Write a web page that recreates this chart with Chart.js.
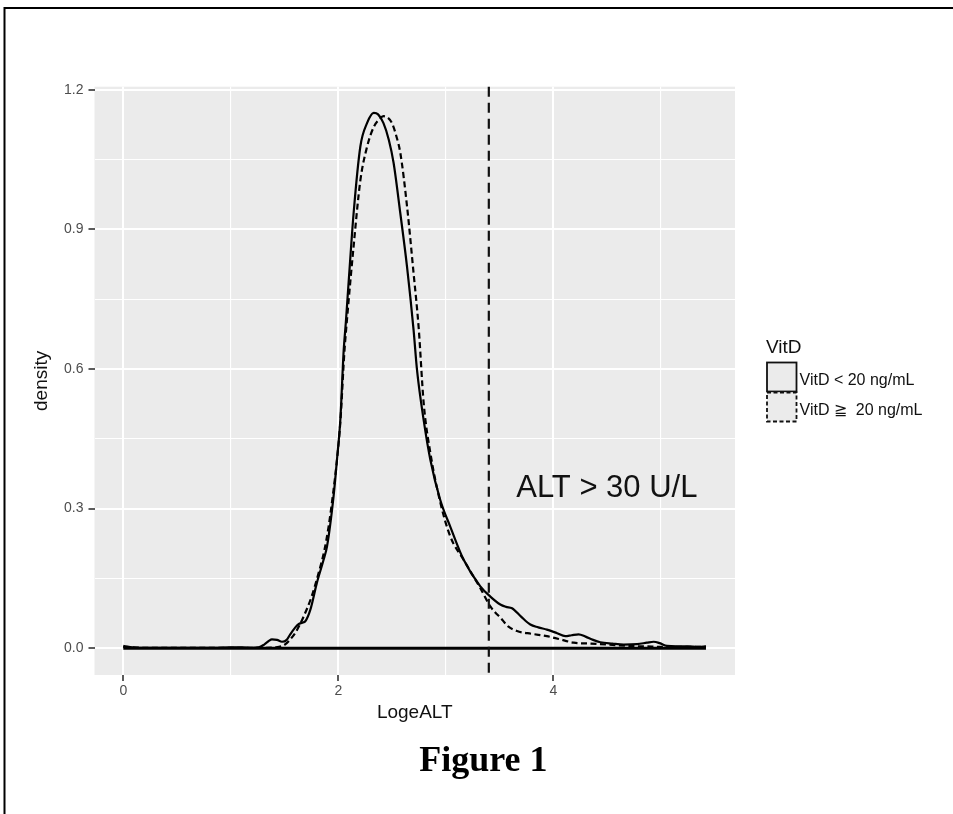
<!DOCTYPE html>
<html><head><meta charset="utf-8">
<script src="https://cdn.jsdelivr.net/npm/chart.js@4.4.1/dist/chart.umd.min.js"></script>
<style>html,body{margin:0;padding:0;background:#fff;}canvas{display:block;}</style>
</head><body>
<canvas id="c" width="953" height="814"></canvas>
<script>
// ---- data ----
const seriesNames = ['VitD < 20 ng/mL', 'VitD \u2267  20 ng/mL'];
const lowX = [0, 0.05, 0.15, 0.35, 0.6, 0.85, 1.0, 1.1, 1.2, 1.26, 1.31, 1.35, 1.383, 1.43, 1.476, 1.52, 1.553, 1.6, 1.63, 1.665, 1.693, 1.74, 1.80, 1.863, 1.895, 1.956, 1.988, 2.019, 2.05, 2.07, 2.10, 2.142, 2.205, 2.267, 2.33, 2.37, 2.42, 2.47, 2.514, 2.577, 2.639, 2.70, 2.732, 2.794, 2.856, 2.949, 3.042, 3.166, 3.321, 3.414, 3.507, 3.56, 3.616, 3.70, 3.786, 3.86, 3.94, 4.03, 4.112, 4.17, 4.235, 4.30, 4.37, 4.437, 4.55, 4.654, 4.78, 4.87, 4.933, 4.99, 5.057, 5.15, 5.25, 5.35, 5.42];
const lowY = [0.005, 0.003, 0.001, 0.001, 0.001, 0.001, 0.002, 0.002, 0.001, 0.002, 0.008, 0.015, 0.019, 0.018, 0.014, 0.018, 0.030, 0.045, 0.052, 0.055, 0.058, 0.083, 0.140, 0.190, 0.219, 0.327, 0.406, 0.492, 0.640, 0.700, 0.800, 0.934, 1.078, 1.128, 1.150, 1.147, 1.128, 1.092, 1.043, 0.934, 0.820, 0.684, 0.598, 0.490, 0.405, 0.318, 0.261, 0.190, 0.133, 0.111, 0.094, 0.089, 0.086, 0.068, 0.051, 0.045, 0.040, 0.033, 0.026, 0.028, 0.030, 0.025, 0.018, 0.013, 0.010, 0.008, 0.009, 0.012, 0.014, 0.011, 0.005, 0.004, 0.004, 0.003, 0.004];
const highX = [0, 0.2, 0.6, 1.0, 1.3, 1.42, 1.48, 1.52, 1.553, 1.60, 1.64, 1.677, 1.75, 1.817, 1.87, 1.91, 1.95, 1.99, 2.02, 2.056, 2.081, 2.142, 2.205, 2.267, 2.33, 2.38, 2.42, 2.46, 2.50, 2.54, 2.577, 2.639, 2.70, 2.747, 2.794, 2.856, 2.949, 3.042, 3.166, 3.321, 3.414, 3.46, 3.507, 3.58, 3.662, 3.80, 3.94, 4.05, 4.19, 4.35, 4.5, 4.7, 4.87, 5.0, 5.2, 5.42];
const highY = [0.003, 0.001, 0.001, 0.001, 0.001, 0.002, 0.005, 0.011, 0.019, 0.033, 0.050, 0.068, 0.110, 0.162, 0.210, 0.262, 0.330, 0.410, 0.490, 0.635, 0.707, 0.863, 1.005, 1.077, 1.120, 1.136, 1.143, 1.140, 1.128, 1.100, 1.064, 0.950, 0.806, 0.690, 0.527, 0.420, 0.313, 0.240, 0.190, 0.129, 0.090, 0.077, 0.066, 0.047, 0.037, 0.031, 0.026, 0.020, 0.012, 0.010, 0.008, 0.005, 0.004, 0.003, 0.003, 0.003];
const xMajorTicks = [0, 2, 4];
const xTickLabels = ['0', '2', '4'];
const xMinorTicks = [1, 3, 5];
const yMajorTicks = [0, 0.3, 0.6, 0.9, 1.2];
const yTickLabels = ['0.0', '0.3', '0.6', '0.9', '1.2'];
const yMinorTicks = [0.15, 0.45, 0.75, 1.05];
const cutoffX = 3.40;
const cutoffLabel = 'ALT > 30 U/L';
const xTitle = 'LogeALT';
const yTitle = 'density';
const legendTitle = 'VitD';
const caption = 'Figure 1';

// ---- styling ----
const SANS = '"Liberation Sans", Arial, Helvetica, sans-serif';
const SERIF = '"Liberation Serif", "Times New Roman", serif';
const X_MIN = -0.268, X_MAX = 5.690, Y_MIN = -0.0574, Y_MAX = 1.2064;
const ANN_X = 3.655, ANN_Y = 0.325;
const seriesDash = [[], [6, 3.5]];
const legendDash = [[], [4, 2.5]];

const toPts = (xs, ys) => xs.map((x, i) => ({x: x, y: ys[i]}));

const bgPlugin = {
  id: 'bg',
  beforeDraw(chart) {
    const {ctx, chartArea: a} = chart;
    ctx.save();
    ctx.fillStyle = '#EBEBEB';
    ctx.fillRect(a.left, a.top, a.right - a.left, a.bottom - a.top);
    ctx.restore();
  }
};

const overlayPlugin = {
  id: 'overlay',
  afterDatasetsDraw(chart) {
    const {ctx, chartArea: a, scales} = chart;
    const xs = scales.x, ys = scales.y;
    ctx.save();
    // cutoff line
    const px = xs.getPixelForValue(cutoffX);
    ctx.strokeStyle = '#111';
    ctx.lineWidth = 2.2;
    ctx.setLineDash([10, 6]);
    ctx.beginPath();
    ctx.moveTo(px, a.top);
    ctx.lineTo(px, a.bottom);
    ctx.stroke();
    ctx.setLineDash([]);
    // annotation
    ctx.fillStyle = '#111';
    ctx.font = '31px ' + SANS;
    ctx.textBaseline = 'alphabetic';
    ctx.textAlign = 'left';
    ctx.fillText(cutoffLabel, xs.getPixelForValue(ANN_X), ys.getPixelForValue(ANN_Y));
    ctx.restore();
  },
  afterDraw(chart) {
    const ctx = chart.ctx;
    ctx.save();
    // legend
    ctx.fillStyle = '#111';
    ctx.font = '19px ' + SANS;
    ctx.textAlign = 'left';
    ctx.textBaseline = 'alphabetic';
    ctx.fillText(legendTitle, 766, 352.5);
    const lx = 767, ly = 362.5, bw = 29.5, bh = 30;
    seriesNames.forEach((name, i) => {
      const y = ly + i * bh;
      ctx.fillStyle = '#EBEBEB';
      ctx.fillRect(lx, y, bw, bh - 1);
      ctx.strokeStyle = '#111';
      ctx.lineWidth = 1.8;
      ctx.setLineDash(legendDash[i]);
      ctx.strokeRect(lx, y, bw, bh - 1);
      ctx.setLineDash([]);
      ctx.fillStyle = '#111';
      ctx.font = '16px ' + SANS;
      ctx.fillText(name, 799.5, y + 22);
    });
    // caption
    ctx.font = 'bold 36px ' + SERIF;
    ctx.textAlign = 'center';
    ctx.fillStyle = '#000';
    ctx.fillText(caption, 483.3, 771);
    // page frame
    ctx.strokeStyle = '#000';
    ctx.lineWidth = 2;
    ctx.beginPath();
    ctx.moveTo(4.5, 814);
    ctx.lineTo(4.5, 8);
    ctx.lineTo(953, 8);
    ctx.stroke();
    ctx.restore();
  }
};

const isIn = (arr, v) => arr.some(t => Math.abs(t - v) < 1e-9);

new Chart(document.getElementById('c'), {
  type: 'line',
  data: {
    datasets: [
      {label: seriesNames[0], data: toPts(lowX, lowY), borderColor: '#000', borderWidth: 2.2,
       borderDash: seriesDash[0], pointRadius: 0, fill: false, cubicInterpolationMode: 'monotone'},
      {label: 'baseline', data: [{x: lowX[0], y: 0}, {x: lowX[lowX.length - 1], y: 0}],
       borderColor: '#000', borderWidth: 3, pointRadius: 0, fill: false},
      {label: seriesNames[1], data: toPts(highX, highY), borderColor: '#000', borderWidth: 2.2,
       borderDash: seriesDash[1], pointRadius: 0, fill: false, cubicInterpolationMode: 'monotone'}
    ]
  },
  options: {
    responsive: false,
    animation: false,
    devicePixelRatio: 1,
    events: [],
    layout: {padding: {left: 0, top: 86.7, right: 218, bottom: 0}},
    plugins: {legend: {display: false}, tooltip: {enabled: false}},
    scales: {
      x: {
        type: 'linear', min: X_MIN, max: X_MAX,
        afterBuildTicks: s => { s.ticks = [...xMajorTicks, ...xMinorTicks].sort((a, b) => a - b).map(v => ({value: v})); },
        afterFit: s => { s.height = 814 - 675; },
        border: {display: false},
        grid: {
          color: '#FFFFFF',
          lineWidth: c => (c.tick && isIn(xMajorTicks, c.tick.value)) ? 2 : 1.1,
          tickColor: c => (c.tick && isIn(xMajorTicks, c.tick.value)) ? '#333333' : 'rgba(0,0,0,0)',
          tickWidth: c => (c.tick && isIn(xMajorTicks, c.tick.value)) ? 1.6 : 0,
          tickLength: 6
        },
        ticks: {
          autoSkip: false, maxRotation: 0, padding: 2, color: '#4D4D4D',
          font: {size: 14, family: SANS},
          callback: v => { const i = xMajorTicks.findIndex(t => Math.abs(t - v) < 1e-9); return i >= 0 ? xTickLabels[i] : ''; }
        },
        title: {display: true, text: xTitle, color: '#111', font: {size: 19, family: SANS}, padding: {top: 0, bottom: 90}}
      },
      y: {
        type: 'linear', min: Y_MIN, max: Y_MAX,
        afterBuildTicks: s => { s.ticks = [...yMajorTicks, ...yMinorTicks].sort((a, b) => a - b).map(v => ({value: v})); },
        afterFit: s => { s.width = 94.5; },
        border: {display: false},
        grid: {
          color: '#FFFFFF',
          lineWidth: c => (c.tick && isIn(yMajorTicks, c.tick.value)) ? 2 : 1.1,
          tickColor: c => (c.tick && isIn(yMajorTicks, c.tick.value)) ? '#333333' : 'rgba(0,0,0,0)',
          tickWidth: c => (c.tick && isIn(yMajorTicks, c.tick.value)) ? 1.6 : 0,
          tickLength: 6
        },
        ticks: {
          autoSkip: false, padding: 5, color: '#4D4D4D',
          font: {size: 14, family: SANS},
          callback: v => { const i = yMajorTicks.findIndex(t => Math.abs(t - v) < 1e-9); return i >= 0 ? yTickLabels[i] : ''; }
        },
        title: {display: true, text: yTitle, color: '#111', font: {size: 19, family: SANS}, padding: {top: 30.3, bottom: 0}}
      }
    }
  },
  plugins: [bgPlugin, overlayPlugin]
});
</script>
</body></html>
